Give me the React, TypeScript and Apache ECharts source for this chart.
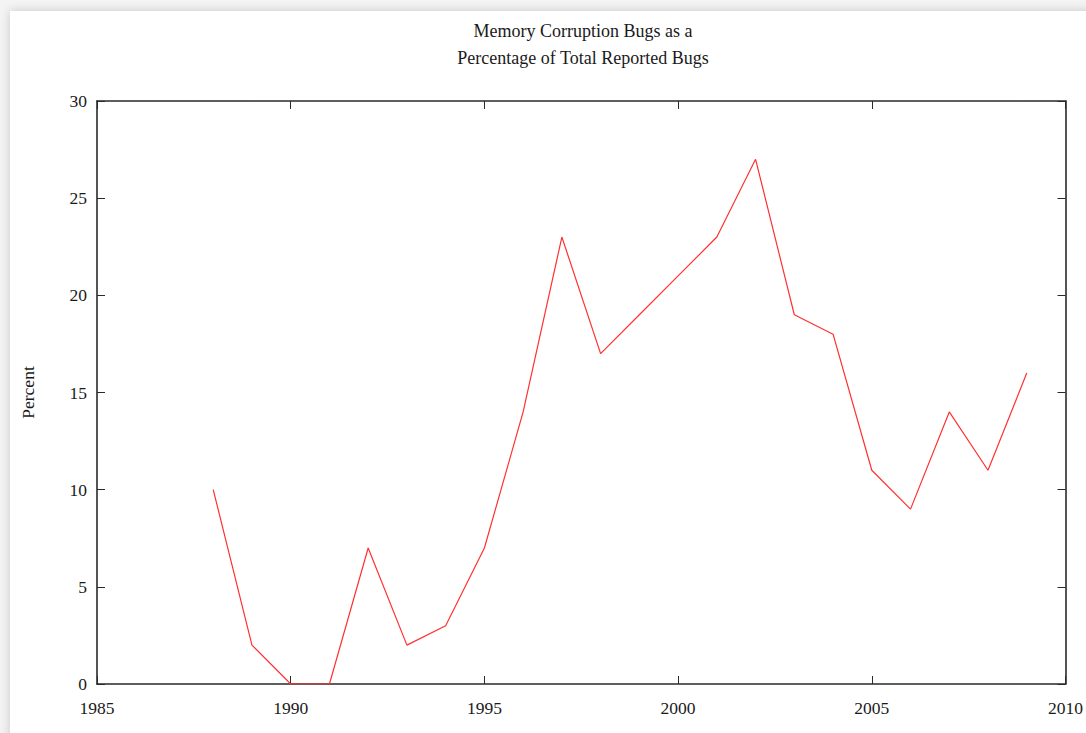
import React, { useEffect, useRef } from "react";
import * as echarts from "echarts";

const years = [1988, 1989, 1990, 1991, 1992, 1993, 1994, 1995, 1996, 1997, 1998, 1999, 2000, 2001, 2002, 2003, 2004, 2005, 2006, 2007, 2008, 2009];
const percents = [10, 2, 0, 0, 7, 2, 3, 7, 14, 23, 17, 19, 21, 23, 27, 19, 18, 11, 9, 14, 11, 16];
const titleLines = ["Memory Corruption Bugs as a", "Percentage of Total Reported Bugs"];
const yName = "Percent";

const FONT = "'Liberation Serif', 'DejaVu Serif', serif";
const AX = "#2a2a2a";
const TXT = "#1a1a1a";
const FS = 17.5;

export default function App() {
  const ref = useRef<HTMLDivElement>(null);
  useEffect(() => {
    const chart = echarts.init(ref.current!, null, { renderer: "svg" });
    const line = { show: true, onZero: false, lineStyle: { color: AX, width: 1.6 } };
    const tick = { show: true, inside: true, length: 8, lineStyle: { color: AX, width: 1 } };
    chart.setOption({
      animation: false,
      grid: { left: 97, right: 19, top: 101, bottom: 49 },
      graphic: titleLines.map((t, i) => ({
        type: "text",
        x: 583,
        y: 31 + i * 27,
        style: { text: t, fontFamily: FONT, fontSize: 18, fill: TXT, textAlign: "center", textVerticalAlign: "middle" },
      })),
      xAxis: [
        {
          type: "value", min: 1985, max: 2010, interval: 5, position: "bottom",
          axisLine: line, axisTick: tick, splitLine: { show: false },
          axisLabel: { color: TXT, fontFamily: FONT, fontSize: FS, margin: 15, formatter: (v: number) => String(v) },
        },
        {
          type: "value", min: 1985, max: 2010, interval: 5, position: "top",
          axisLine: line, axisTick: tick, splitLine: { show: false },
          axisLabel: { show: false },
        },
      ],
      yAxis: [
        {
          type: "value", min: 0, max: 30, interval: 5, position: "left",
          axisLine: line, axisTick: { ...tick, inside: true }, splitLine: { show: false },
          axisLabel: { color: TXT, fontFamily: FONT, fontSize: FS, margin: 10, formatter: (v: number) => String(v) },
          name: yName, nameLocation: "middle", nameGap: 60, nameRotate: 90,
          nameTextStyle: { color: TXT, fontFamily: FONT, fontSize: FS },
        },
        {
          type: "value", min: 0, max: 30, interval: 5, position: "right",
          axisLine: line, axisTick: tick, splitLine: { show: false },
          axisLabel: { show: false },
        },
      ],
      series: [
        {
          type: "line",
          data: years.map((y, i) => [y, percents[i]]),
          showSymbol: false,
          symbol: "none",
          lineStyle: { color: "#ff3030", width: 1.2 },
          z: 1,
        },
      ],
    });
    return () => chart.dispose();
  }, []);
  return (
    <div style={{ position: "fixed", left: 0, top: 0, width: 1086, height: 733, background: "#f4f4f4", overflow: "hidden" }}>
      <div style={{ position: "absolute", left: 10, top: 11, width: 1100, height: 760, background: "#fff", boxShadow: "0 0 10px rgba(0,0,0,0.18)" }} />
      <div ref={ref} style={{ position: "absolute", left: 0, top: 0, width: 1086, height: 733 }} />
    </div>
  );
}
